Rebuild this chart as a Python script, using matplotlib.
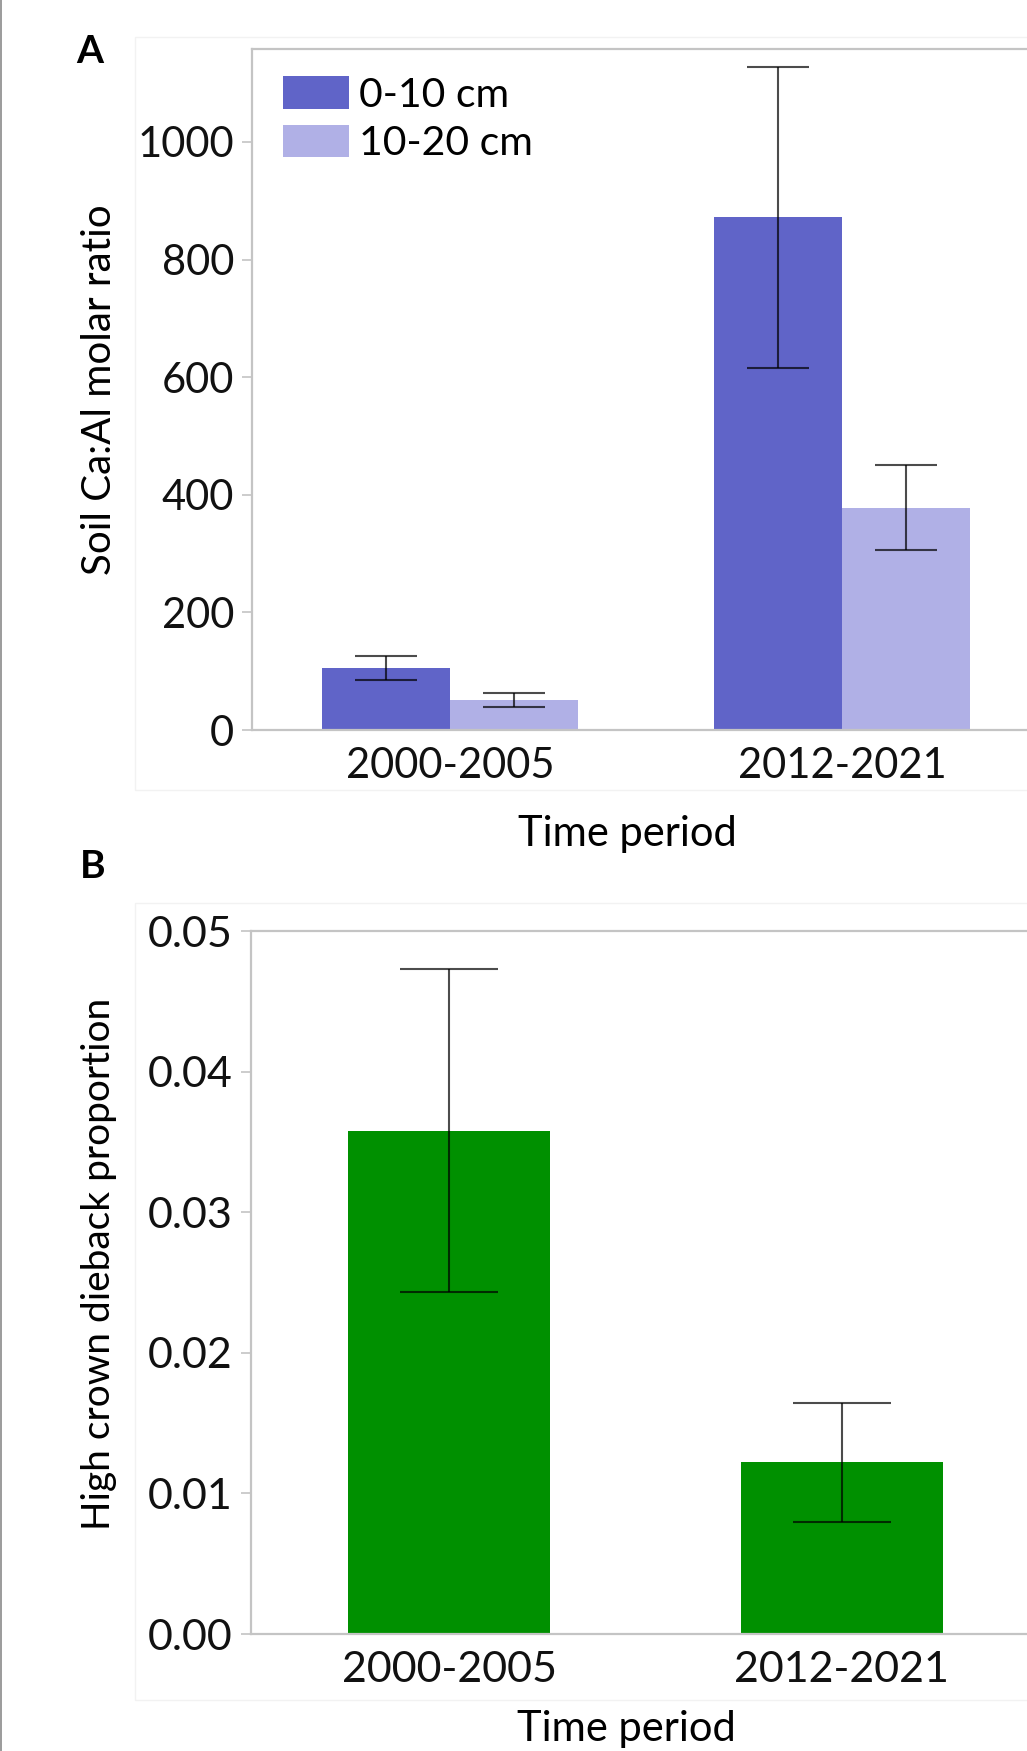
import matplotlib
matplotlib.use('Agg')
import matplotlib.pyplot as plt
from matplotlib.lines import Line2D
from matplotlib.patches import Rectangle

# ---- data ----
periods = ['2000-2005', '2012-2021']
depths = ['0-10 cm', '10-20 cm']
ca_al_0_10 = [105, 872]
ca_al_0_10_err = [20, 256]
ca_al_10_20 = [51, 378]
ca_al_10_20_err = [12, 72]
dieback = [0.0358, 0.0122]
dieback_err = [0.0115, 0.0042]
yticksA = [0, 200, 400, 600, 800, 1000]
yticksB = [0.00, 0.01, 0.02, 0.03, 0.04, 0.05]

plt.rcParams['font.family'] = ['Lato', 'DejaVu Sans']

W, H = 1027, 1751
fig = plt.figure(figsize=(W / 100, H / 100), dpi=100)
fig.patch.set_facecolor('white')


def px_axes(l, t, r, b):
    return fig.add_axes([l / W, 1 - b / H, (r - l) / W, (b - t) / H])


# faint panel frames
for (l, t, r, b) in [(135, 37, 1040, 790), (135, 903, 1040, 1700)]:
    fig.patches.append(Rectangle((l / W, 1 - b / H), (r - l) / W, (b - t) / H,
                                 transform=fig.transFigure, facecolor='none',
                                 edgecolor='#f2f2f2', lw=1.0, zorder=0))
# left border line
fig.add_artist(Line2D([0.0008, 0.0008], [0, 1], transform=fig.transFigure,
                      color='#8a8a8a', lw=1.2))

axA = px_axes(252, 49, 1040, 730)
axB = px_axes(251, 931, 1040, 1634)

SPINE = '#c4c4c4'


def style(ax, xsize, ysize):
    for s in ax.spines.values():
        s.set_color(SPINE)
        s.set_linewidth(1.6)
    ax.tick_params(axis='y', length=7, width=1.2, color=SPINE, labelsize=ysize,
                   pad=6, labelcolor='#111111')
    ax.tick_params(axis='x', length=0, labelsize=xsize, pad=12, labelcolor='#111111')
    ax.set_xlim(-0.505, 1.505)
    ax.set_xticks(range(len(periods)))
    ax.set_xticklabels(periods)


x = list(range(len(periods)))
wA = 0.327
errkw = dict(ecolor='black', elinewidth=1.5, capthick=1.5, alpha=0.7)

axA.bar([xi - wA / 2 for xi in x], ca_al_0_10, wA, color='#6064c8',
        label=depths[0], zorder=2)
axA.bar([xi + wA / 2 for xi in x], ca_al_10_20, wA, color='#b0b0e6',
        label=depths[1], zorder=2)
axA.errorbar([xi - wA / 2 for xi in x], ca_al_0_10, yerr=ca_al_0_10_err,
             fmt='none', capsize=22, zorder=3, **errkw)
axA.errorbar([xi + wA / 2 for xi in x], ca_al_10_20, yerr=ca_al_10_20_err,
             fmt='none', capsize=22, zorder=3, **errkw)
style(axA, 30, 30)
axA.set_ylim(0, 1158)
axA.set_yticks(yticksA)
axA.set_ylabel('Soil Ca:Al molar ratio', fontsize=29)
axA.yaxis.set_label_coords(-0.170, 0.5)
axA.set_xlabel('Time period', fontsize=30)
axA.xaxis.set_label_coords(0.476, -0.125)
axA.legend(loc='upper left', bbox_to_anchor=(31 / 788, 1 - 27 / 681),
           frameon=False, fontsize=29.5, handlelength=1.6, handleheight=0.85,
           handletextpad=0.25, labelspacing=0.27, borderpad=0, borderaxespad=0)

wB = 0.515
axB.bar(x, dieback, wB, color='#009000', zorder=2)
axB.errorbar(x, dieback, yerr=dieback_err, fmt='none', capsize=35, zorder=3,
             **errkw)
style(axB, 31, 31)
axB.set_ylim(0, 0.05)
axB.set_yticks(yticksB)
axB.set_yticklabels([f'{v:.2f}' for v in yticksB])
axB.set_ylabel('High crown dieback proportion', fontsize=28)
axB.yaxis.set_label_coords(-0.170, 0.526)
axB.set_xlabel('Time period', fontsize=30)
axB.xaxis.set_label_coords(0.476, -0.108)

fig.text(76 / W, 1 - 63 / H, 'A', fontsize=28, fontweight='bold', va='baseline')
fig.text(80 / W, 1 - 878 / H, 'B', fontsize=28, fontweight='bold', va='baseline')

fig.savefig('out.png', dpi=100)
